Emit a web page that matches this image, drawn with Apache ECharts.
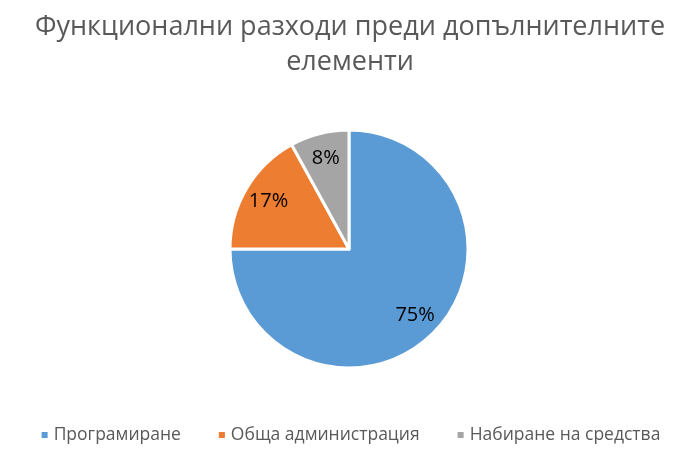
<!DOCTYPE html>
<html>
<head>
<meta charset="utf-8">
<script src="https://cdn.jsdelivr.net/npm/echarts@6/dist/echarts.min.js"></script>
<style>
  html, body { margin: 0; padding: 0; background: #fff; }
  #chart { width: 700px; height: 454px; }
</style>
</head>
<body>
<div id="chart"></div>
<script>
const categories = ["Програмиране", "Обща администрация", "Набиране на средства"];
const shares = [75, 17, 8];
const colors = ["#5B9BD5", "#ED7D31", "#A5A5A5"];

const pieData = categories.map((name, i) => ({ name, value: shares[i] }));

const chart = echarts.init(document.getElementById("chart"));
chart.setOption({
  color: colors,
  animation: false,
  textStyle: { fontFamily: "Open Sans" },
  title: {
    text: "Функционални разходи преди допълнителните\nелементи",
    left: "center",
    top: 5,
    textStyle: {
      color: "#595959",
      fontSize: 27,
      fontWeight: "normal",
      lineHeight: 35,
      fontFamily: "Open Sans"
    }
  },
  legend: {
    bottom: 5,
    left: "center",
    icon: "rect",
    itemWidth: 8,
    itemHeight: 8,
    itemGap: 36,
    data: categories,
    textStyle: { color: "#595959", fontSize: 17.5, fontFamily: "Open Sans" }
  },
  series: [
    {
      type: "pie",
      center: [349, 249],
      radius: [0, 119],
      startAngle: 90,
      clockwise: true,
      itemStyle: { borderColor: "#fff", borderWidth: 3 },
      label: { show: false },
      labelLine: { show: false },
      data: pieData
    },
    {
      type: "pie",
      center: [349, 249],
      radius: [62, 119],
      startAngle: 90,
      clockwise: true,
      silent: true,
      itemStyle: { color: "transparent", borderWidth: 0 },
      label: {
        show: true,
        position: "inside",
        formatter: "{c}%",
        color: "#000",
        fontSize: 20,
        fontFamily: "Open Sans"
      },
      labelLine: { show: false },
      data: pieData
    }
  ]
});
</script>
</body>
</html>
